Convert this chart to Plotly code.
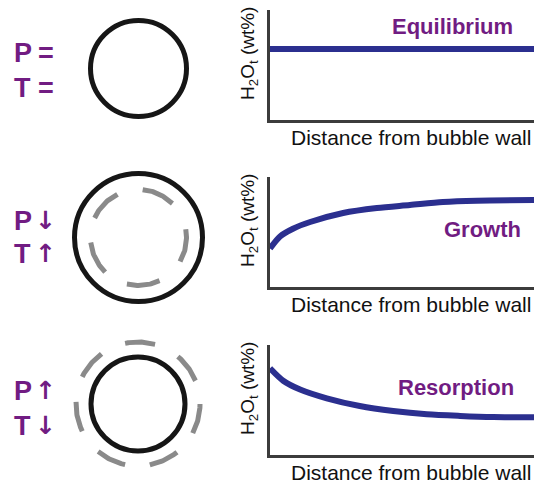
import numpy as np
import plotly.graph_objects as go

# curves (distance 0-100, H2Ot in arbitrary 0-10 units)
dist_equil = [0, 100]
h2o_equil = [6.45, 6.45]
dist_growth = [0, 3.8, 8.7, 15.2, 27.7, 40.5, 53, 65.5, 78.4, 100]
h2o_growth = [3.5, 4.6, 5.3, 5.91, 6.73, 7.18, 7.45, 7.73, 7.85, 7.91]
dist_resorp = [0, 5, 11.4, 21.5, 34, 46.7, 59.4, 72, 84.6, 100]
h2o_resorp = [7.88, 6.75, 5.95, 5.15, 4.45, 4.0, 3.7, 3.55, 3.45, 3.43]

panel_names = ["Equilibrium", "Growth", "Resorption"]
p_arrows = ["=", "\u2193", "\u2191"]
t_arrows = ["=", "\u2191", "\u2193"]

# dashed rings: dash centre angles (deg) and dash length (deg)
growth_dash_centres = [65, 136, 206, 276, 350]
growth_dash_len = 40
resorp_dash_centres = [88, 36, -14, -65, -116, -168, 140]
resorp_dash_len = 28

PURPLE = "#711c82"
BLUE = "#2b2f8f"
AXIS = "#3c3c3c"
FONT = "Arial, Liberation Sans, sans-serif"

fig = go.Figure()

# pixel overlay for the bubble sketches and text (first so it sits underneath)
fig.update_layout(
    xaxis=dict(domain=[0, 1], range=[0, 534], visible=False, anchor="y"),
    yaxis=dict(domain=[0, 1], range=[485, 0], visible=False, anchor="x"),
)

# the three small plots on the right
y_domains = [[0.7526, 0.9794], [0.4082, 0.6351], [0.0619, 0.2887]]
series = [(dist_equil, h2o_equil), (dist_growth, h2o_growth), (dist_resorp, h2o_resorp)]
for i, (xs, ys) in enumerate(series):
    n = str(i + 2)
    fig.add_trace(go.Scatter(x=xs, y=ys, mode="lines", xaxis="x" + n, yaxis="y" + n,
                             line=dict(color=BLUE, width=6, shape="spline", smoothing=0.8),
                             hoverinfo="skip", cliponaxis=False))
    ax = dict(domain=[270 / 534, 1], range=[0, 100], showline=True, linewidth=3,
              linecolor=AXIS, showgrid=False, zeroline=False, showticklabels=False,
              ticks="", anchor="y" + n)
    ay = dict(domain=y_domains[i], range=[0, 10], showline=True, linewidth=3,
              linecolor=AXIS, showgrid=False, zeroline=False, showticklabels=False,
              ticks="", anchor="x" + n)
    fig.update_layout(**{"xaxis" + n: ax, "yaxis" + n: ay})


def dash_ring(cx, cy, r, centres, length):
    for c in centres:
        a = np.deg2rad(np.linspace(c - length / 2, c + length / 2, 30))
        fig.add_trace(go.Scatter(x=cx + r * np.cos(a), y=cy - r * np.sin(a), mode="lines",
                                 xaxis="x", yaxis="y", hoverinfo="skip",
                                 line=dict(color="#8a8a8a", width=5)))

# solid bubbles
for cx, cy, r in [(138.5, 68.5, 48), (138.5, 237.5, 64), (138, 404, 47)]:
    fig.add_shape(type="circle", xref="x", yref="y", x0=cx - r, x1=cx + r,
                  y0=cy - r, y1=cy + r, line=dict(color="#161616", width=5))

dash_ring(138.5, 237.5, 48, growth_dash_centres, growth_dash_len)
dash_ring(138, 404, 62, resorp_dash_centres, resorp_dash_len)

# P / T labels
p_y = [53, 221, 391]
t_y = [88, 254, 426]
for i in range(3):
    for letter, sym, yy in [("P", p_arrows[i], p_y[i]), ("T", t_arrows[i], t_y[i])]:
        fig.add_annotation(x=12, y=yy, xref="x", yref="y", text="<b>" + letter + "</b>",
                           showarrow=False, xanchor="left", yanchor="middle",
                           font=dict(family=FONT, size=27, color=PURPLE))
        is_eq = sym == "="
        fig.add_annotation(x=46 if is_eq else 45, y=yy + (0 if is_eq else -1), xref="x", yref="y",
                           text="<b>" + sym + "</b>",
                           showarrow=False, xanchor="center", yanchor="middle",
                           font=dict(family="DejaVu Sans" if not is_eq else FONT,
                                     size=27 if is_eq else 25, color=PURPLE))

# panel names
for txt, x, y in [("Equilibrium", 452, 26), ("Growth", 482, 229), ("Resorption", 456, 387)]:
    fig.add_annotation(x=x, y=y, xref="x", yref="y", text="<b>" + txt + "</b>",
                       showarrow=False, xanchor="center", yanchor="middle",
                       font=dict(family=FONT, size=22, color=PURPLE))

# axis titles
for top in [10, 177, 345]:
    fig.add_annotation(x=249, y=top + 44, xref="x", yref="y",
                       text="H<sub>2</sub>O<sub>t</sub> (wt%)", textangle=-90,
                       showarrow=False, xanchor="center", yanchor="middle",
                       font=dict(family=FONT, size=19, color="#111111"))
    fig.add_annotation(x=411, y=top + 127, xref="x", yref="y",
                       text="Distance from bubble wall",
                       showarrow=False, xanchor="center", yanchor="middle",
                       font=dict(family=FONT, size=21, color="#111111"))

fig.update_layout(
    width=534, height=485,
    margin=dict(l=0, r=0, t=0, b=0),
    showlegend=False,
    plot_bgcolor="rgba(0,0,0,0)", paper_bgcolor="white",
)

fig.write_html("out.html", config={"displayModeBar": False},
               post_script="document.body.style.margin='0';")
